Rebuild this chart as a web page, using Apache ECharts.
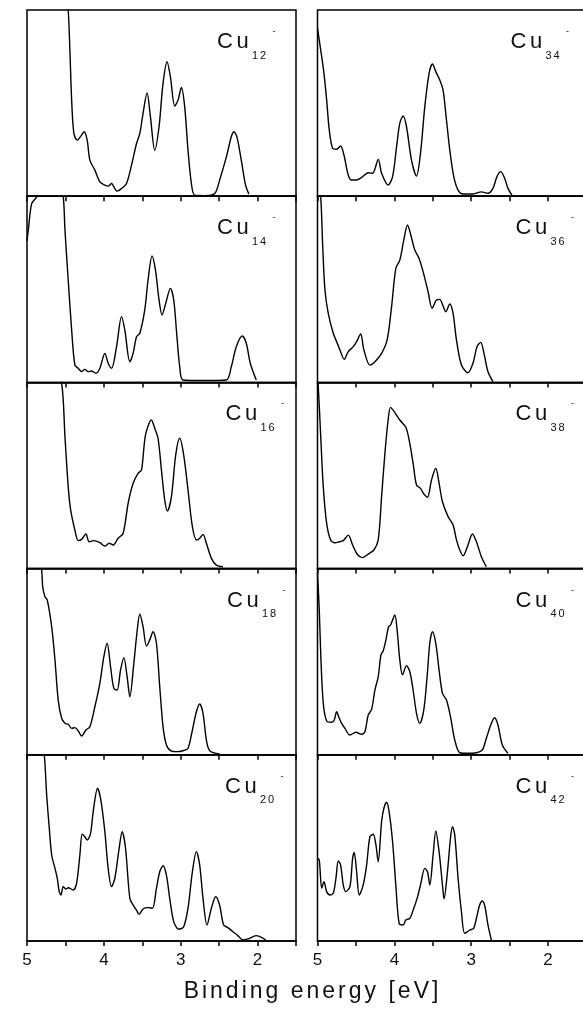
<!DOCTYPE html>
<html>
<head>
<meta charset="utf-8">
<script src="https://cdn.jsdelivr.net/npm/echarts@6/dist/echarts.min.js"></script>
<style>
  html, body { margin: 0; padding: 0; background: #fff; overflow: hidden; }
  /* the right-hand column runs a little past the visible edge */
  #chart { width: 600px; height: 1010px; }
</style>
</head>
<body>
<div id="chart"></div>
<script>
// Photoelectron spectra of Cu_n^- clusters: intensity (arb. units, 0-100 per panel) vs binding energy (eV)
const clusterSizes = [12, 14, 16, 18, 20, 34, 36, 38, 40, 42];
const axisLabelValues = [5, 4, 3, 2];
const axisTitle = 'Binding energy [eV]';

const cu12 = [[5.0,190],[4.7,140],[4.5,112],[4.464,100],[4.442,78.5],[4.419,51.6],[4.390,33.7],[4.347,30.1],[4.290,32.8],[4.256,34.6],[4.217,30.1],[4.182,19.4],[4.117,14],[4.052,7.7],[3.987,5.9],[3.944,5.4],[3.900,6.8],[3.857,4.1],[3.827,2.7],[3.770,4.1],[3.705,6.8],[3.640,16.7],[3.575,28.3],[3.532,33.7],[3.490,44.5],[3.438,55.5],[3.394,42.6],[3.338,24.7],[3.282,37.3],[3.230,60.6],[3.178,72.2],[3.134,64.1],[3.078,48.4],[3.035,51.6],[2.991,58.4],[2.948,48],[2.905,24.7],[2.861,6.8],[2.818,0.5],[2.688,0.3],[2.558,1.4],[2.494,8.6],[2.406,21.1],[2.342,31.9],[2.308,34.6],[2.269,31.9],[2.212,19.4],[2.156,5.9],[2.113,1.1]];
const cu14 = [[5.0,76],[4.983,81.8],[4.939,96],[4.874,99.7],[4.8,112],[4.6,115],[4.529,100],[4.506,81.8],[4.464,55],[4.419,28.1],[4.377,9.3],[4.334,7.6],[4.290,5.8],[4.247,7.0],[4.204,5.8],[4.160,6.1],[4.104,4.9],[4.052,7.6],[3.987,15.6],[3.944,10.3],[3.900,7.6],[3.835,19.2],[3.770,35.3],[3.727,28.1],[3.662,11.1],[3.619,15.6],[3.575,24.5],[3.532,26.4],[3.468,38.9],[3.425,55],[3.373,67.9],[3.329,60.4],[3.282,44.3],[3.243,36.2],[3.195,42.5],[3.134,50.5],[3.091,44.3],[3.056,28.1],[3.013,8.4],[2.970,1.3],[2.7,1.0],[2.406,1.3],[2.342,8.4],[2.277,19.2],[2.199,24.9],[2.147,21],[2.095,10.3],[2.017,1.3]];
const cu16 = [[5.0,160],[4.7,125],[4.549,99.5],[4.506,70.8],[4.464,44],[4.432,31.5],[4.377,20.7],[4.334,15],[4.290,15.7],[4.234,18.6],[4.191,14.4],[4.130,15],[4.052,13.9],[3.987,12.1],[3.931,13.6],[3.879,12.7],[3.814,16.3],[3.749,19],[3.684,35.1],[3.619,45.8],[3.555,51.2],[3.510,53],[3.458,71.8],[3.381,79.8],[3.338,75.4],[3.295,70],[3.251,53],[3.208,36.8],[3.173,30.9],[3.121,38.6],[3.065,61],[3.013,70],[2.961,61],[2.905,42.2],[2.848,22.5],[2.796,15.4],[2.753,16.3],[2.710,18.4],[2.666,13.6],[2.601,5.5],[2.536,1.9],[2.451,1]];
const cu18 = [[5.0,150],[4.88,115],[4.809,99.2],[4.796,90.3],[4.766,84.9],[4.736,83.1],[4.679,68.8],[4.636,50.9],[4.594,29.4],[4.549,19.6],[4.506,16.9],[4.464,16.4],[4.419,14.2],[4.377,14.6],[4.334,12.9],[4.290,10.1],[4.234,13.3],[4.182,15.1],[4.117,25.8],[4.052,38.4],[4.000,52.7],[3.957,59.9],[3.913,47.3],[3.870,35.7],[3.827,34.8],[3.783,45.5],[3.740,52.2],[3.697,41.9],[3.662,31.2],[3.610,49.1],[3.568,66.1],[3.532,75.6],[3.490,68.8],[3.445,58.4],[3.403,61.7],[3.360,66.1],[3.316,59.9],[3.273,36.6],[3.230,15.1],[3.186,5.3],[3.121,2],[3.056,1.7],[2.970,2.2],[2.905,3.5],[2.848,13.3],[2.796,23.1],[2.753,27.3],[2.710,22.3],[2.666,7.9],[2.623,2.2],[2.494,0.4]];
const cu20 = [[5.0,160],[4.85,125],[4.775,100],[4.744,78.4],[4.710,60.5],[4.679,46.2],[4.636,39],[4.606,33.7],[4.581,26.5],[4.558,24.7],[4.529,29.2],[4.494,27.9],[4.464,28.6],[4.399,27.4],[4.355,31],[4.312,46.2],[4.282,57.3],[4.247,56],[4.217,54.2],[4.173,57.8],[4.139,69.4],[4.082,82],[4.039,75.7],[3.987,58.7],[3.944,39],[3.900,29.2],[3.857,33.7],[3.801,49.8],[3.762,58.7],[3.718,49.8],[3.662,22.9],[3.619,19.3],[3.575,16.6],[3.542,14.3],[3.490,17.2],[3.425,17.9],[3.368,17.6],[3.316,28.3],[3.273,37.2],[3.230,40.4],[3.186,35.4],[3.143,22.9],[3.091,10.4],[3.026,6.3],[2.961,7.7],[2.905,17.6],[2.848,37.2],[2.796,48],[2.753,40.8],[2.710,22.9],[2.658,8.6],[2.601,17.6],[2.545,23.8],[2.494,19.3],[2.442,8.6],[2.386,7.2],[2.321,5],[2.256,2.9],[2.191,0.5],[2.126,1.1],[2.017,2.9],[1.931,1.5],[1.887,0]];
const cu34 = [[5.0,90.2],[4.958,78.5],[4.916,66],[4.881,51.7],[4.847,35.6],[4.803,25.7],[4.751,25.2],[4.699,27],[4.656,22.1],[4.600,11.4],[4.556,8.7],[4.491,8.7],[4.426,10.1],[4.340,12.6],[4.283,12.3],[4.210,19.8],[4.166,12.3],[4.081,6],[4.023,10.5],[3.971,26.6],[3.929,39.2],[3.886,43.1],[3.842,37.3],[3.777,19.4],[3.712,10.8],[3.660,23],[3.604,48.1],[3.548,66],[3.504,71],[3.461,66.9],[3.409,62.4],[3.366,57],[3.322,40.9],[3.279,24.8],[3.227,10.5],[3.171,3.3],[3.106,1.2],[2.977,1.2],[2.868,2.3],[2.782,1.6],[2.717,4.2],[2.665,10.5],[2.617,13.2],[2.565,9.6],[2.522,4.2],[2.470,0.6]];
const cu36 = [[5.0,115],[4.958,99.7],[4.932,72.9],[4.903,49.6],[4.860,37.1],[4.795,26.4],[4.751,21.9],[4.708,17.4],[4.652,12.4],[4.600,16.5],[4.535,19.2],[4.491,21.9],[4.439,26],[4.396,17.4],[4.318,9.3],[4.253,11.1],[4.166,15.6],[4.094,22.8],[4.036,40.7],[3.981,61.3],[3.929,65.7],[3.877,76.5],[3.829,84.5],[3.786,79.2],[3.734,71.1],[3.678,66.6],[3.626,59.5],[3.561,48.7],[3.509,39.8],[3.452,44.3],[3.409,44.6],[3.366,41],[3.331,38],[3.279,42.1],[3.236,37.1],[3.192,22.8],[3.127,9.3],[3.042,5.2],[2.977,10.3],[2.925,19.2],[2.877,21.5],[2.834,15.6],[2.782,5.7],[2.717,0.4]];
const cu38 = [[5.0,100],[4.990,97.7],[4.958,70.8],[4.925,44],[4.881,24.3],[4.829,15.4],[4.773,13.9],[4.717,14.4],[4.665,15],[4.600,18],[4.543,12.7],[4.483,7.7],[4.418,5.9],[4.340,7.8],[4.266,10],[4.210,15.4],[4.166,38.6],[4.123,61.9],[4.081,79.8],[4.049,86.6],[4.003,84.3],[3.929,79.8],[3.851,75.9],[3.808,69.1],[3.756,56.6],[3.712,44.9],[3.660,43.1],[3.617,40.1],[3.569,38.3],[3.517,47.6],[3.461,53.9],[3.418,45.8],[3.374,35.9],[3.301,27.9],[3.236,23.4],[3.192,15.4],[3.149,10],[3.106,6.9],[3.049,11.8],[2.984,18.6],[2.932,14.4],[2.868,6.4],[2.803,1]];
const cu40 = [[5.0,97.5],[4.977,77.8],[4.955,50.9],[4.925,27.7],[4.881,18.2],[4.816,17.5],[4.782,18.7],[4.751,23.1],[4.717,19.6],[4.686,16.9],[4.643,14.2],[4.578,10.6],[4.500,12.1],[4.426,11],[4.383,12.4],[4.340,21.4],[4.296,24.4],[4.253,34.8],[4.210,41.9],[4.175,53.6],[4.145,55.9],[4.110,61.7],[4.075,68.8],[4.049,69.7],[3.994,75.1],[3.964,67],[3.929,50.9],[3.894,42.9],[3.842,47.9],[3.799,44.6],[3.756,34.8],[3.712,22.3],[3.669,16.9],[3.617,24.1],[3.574,41.9],[3.539,59.9],[3.504,66.1],[3.461,59.9],[3.418,45.5],[3.374,33],[3.322,29.4],[3.270,20.5],[3.214,7.9],[3.149,1.1],[3.062,0.8],[2.932,1.1],[2.855,2.6],[2.803,8.9],[2.738,16.9],[2.695,19.9],[2.652,16],[2.595,5.3],[2.522,0.8]];
const cu42 = [[5.0,44.4],[4.977,43.5],[4.945,28.3],[4.916,31.9],[4.881,26.5],[4.838,24.7],[4.795,25.6],[4.760,33.7],[4.730,43],[4.699,40.8],[4.665,30.1],[4.634,26.5],[4.578,29.2],[4.543,44.4],[4.522,47.6],[4.491,37.2],[4.457,24.7],[4.405,30.1],[4.361,40.8],[4.318,56],[4.275,57.3],[4.240,51.6],[4.210,42.6],[4.166,64.1],[4.136,71.3],[4.101,74.5],[4.068,69.4],[4.023,53.3],[3.981,30.1],[3.938,9.5],[3.886,8.6],[3.851,11.3],[3.799,12.2],[3.747,17.6],[3.704,22.9],[3.660,30.1],[3.604,39],[3.569,37.2],[3.539,30.1],[3.496,46.2],[3.461,59.1],[3.418,48],[3.374,30.1],[3.353,22.6],[3.309,37.2],[3.270,55.2],[3.244,61.4],[3.214,56.9],[3.171,33.7],[3.127,15.7],[3.084,4.1],[3.019,5.9],[2.968,6.8],[2.932,12.2],[2.890,19.3],[2.855,21.5],[2.821,18.4],[2.782,8.6],[2.738,0.5]];

const spectra = [cu12, cu14, cu16, cu18, cu20, cu34, cu36, cu38, cu40, cu42];

// ---- layout ----
const FONT = '"Liberation Sans", Arial, Helvetica, sans-serif';
const colLeft = [27, 317.5];
const panelW = 269;
const panelTop0 = 10;
const panelH = 186.2;
const rowsPerCol = 5;
// horizontal position of the cluster label inside each panel
const labelOffset = [190, 190, 198.5, 200, 198, 193, 198, 198, 198, 198];

const measureCtx = document.createElement('canvas').getContext('2d');
function textWidth(str, size) {
  measureCtx.font = size + 'px ' + FONT;
  return measureCtx.measureText(str).width;
}
// text drawn glyph by glyph with extra tracking
function spacedText(str, x, y, size, spacing) {
  const out = [];
  let cx = x;
  for (const ch of str) {
    out.push({ type: 'text', x: cx, y: y, silent: true,
      style: { text: ch, fontSize: size, fontFamily: FONT, fill: '#111', align: 'left', verticalAlign: 'top' } });
    cx += textWidth(ch, size) + spacing;
  }
  return { elements: out, width: cx - x - spacing };
}

const grids = [], xAxes = [], yAxes = [], series = [], graphics = [];
spectra.forEach((data, i) => {
  const col = Math.floor(i / rowsPerCol);
  const row = i % rowsPerCol;
  const left = colLeft[col];
  const top = panelTop0 + row * panelH;
  const isBottom = row === rowsPerCol - 1;
  grids.push({ left: left, top: top, width: panelW, height: panelH, show: true,
    borderColor: '#000', borderWidth: 1.5, backgroundColor: 'transparent' });
  xAxes.push({
    type: 'value', gridIndex: i, min: 1.5, max: 5, interval: 0.5, inverse: true,
    axisLine: { show: true, onZero: false, lineStyle: { color: '#000', width: 1.5 } },
    axisTick: { show: true, inside: false, length: 5, lineStyle: { color: '#000', width: 1.5 } },
    splitLine: { show: false },
    axisLabel: { show: isBottom, margin: 11, fontSize: 17, fontFamily: FONT, color: '#111',
      formatter: v => axisLabelValues.indexOf(v) >= 0 ? String(v) : '' }
  });
  yAxes.push({ type: 'value', gridIndex: i, min: 0, max: 100, show: false });
  series.push({ type: 'line', xAxisIndex: i, yAxisIndex: i, data: data, showSymbol: false,
    smooth: 0.3, clip: true, lineStyle: { color: '#000', width: 1.4 }, silent: true });

  // cluster label: Cu with subscript size and superscript charge
  const lx = left + labelOffset[i];
  const ly = top + 21;
  const cPart = spacedText('Cu', lx, ly, 22, 3.5);
  graphics.push(...cPart.elements);
  const sub = spacedText(String(clusterSizes[i]), lx + 35, top + 40, 11, 1.8);
  graphics.push(...sub.elements);
  graphics.push({ type: 'text', x: lx + 55.5, y: top + 17, silent: true,
    style: { text: '-', fontSize: 9, fontFamily: FONT, fill: '#111', align: 'left', verticalAlign: 'top' } });
});

// axis title centred under both columns
const titleSize = 23, titleSpacing = 3;
let tw = 0;
for (const ch of axisTitle) tw += textWidth(ch, titleSize) + titleSpacing;
tw -= titleSpacing;
graphics.push(...spacedText(axisTitle, 311 - tw / 2, 980, titleSize, titleSpacing).elements);

const chart = echarts.init(document.getElementById('chart'), null, { renderer: 'canvas' });
chart.setOption({
  animation: false,
  backgroundColor: '#fff',
  grid: grids,
  xAxis: xAxes,
  yAxis: yAxes,
  series: series,
  graphic: { elements: graphics }
});
</script>
</body>
</html>
